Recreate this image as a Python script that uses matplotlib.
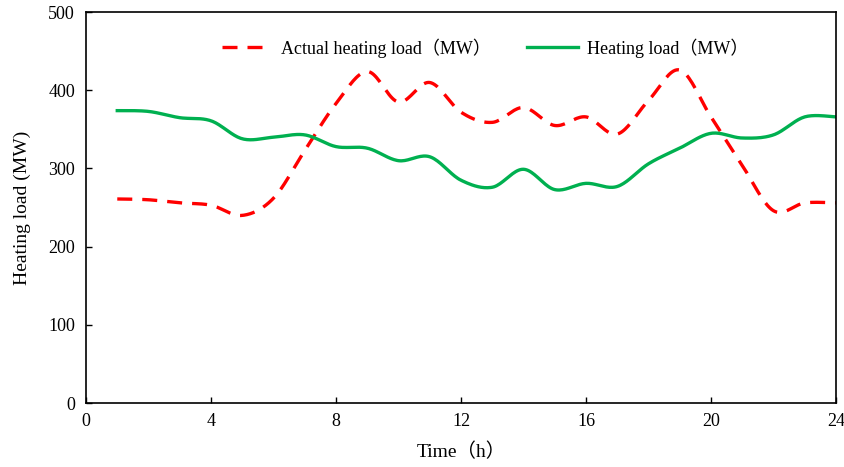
import numpy as np
import matplotlib
matplotlib.use('Agg')
import matplotlib.pyplot as plt

plt.rcParams['font.family'] = ['Liberation Serif', 'Noto Sans CJK SC']

# hourly data
hours = list(range(1, 25))
actual_load = [261, 260, 256, 253, 240, 262, 323, 383, 424, 385, 410, 372,
               359, 378, 355, 366, 344, 387, 426, 366, 304, 246, 256, 256]
heating_load = [374, 373, 365, 361, 338, 340, 343, 328, 326, 310, 315, 285,
                276, 299, 273, 281, 277, 306, 326, 345, 339, 343, 366, 366]


def smooth(x, y, n=20):
    # Catmull-Rom style smoothing like Excel's smoothed lines
    x = np.asarray(x, float)
    y = np.asarray(y, float)
    px = np.concatenate([[x[0]], x, [x[-1]]])
    py = np.concatenate([[y[0]], y, [y[-1]]])
    xs, ys = [], []
    t = np.linspace(0, 1, n, endpoint=False)
    for i in range(1, len(px) - 2):
        p0, p1, p2, p3 = [np.array([px[j], py[j]]) for j in (i - 1, i, i + 1, i + 2)]
        b1 = p1 + (p2 - p0) / 6
        b2 = p2 - (p3 - p1) / 6
        pts = ((1 - t)[:, None] ** 3 * p1 + 3 * ((1 - t) ** 2 * t)[:, None] * b1
               + 3 * ((1 - t) * t ** 2)[:, None] * b2 + (t ** 3)[:, None] * p2)
        xs.extend(pts[:, 0])
        ys.extend(pts[:, 1])
    xs.append(x[-1])
    ys.append(y[-1])
    return np.array(xs), np.array(ys)


fig = plt.figure(figsize=(8.45, 4.67), dpi=100)
ax = fig.add_axes([0.1018, 0.137, 0.8875, 0.837])

sx, sy = smooth(hours, actual_load)
ax.plot(sx, sy, color='#FF0000', lw=2.4, dashes=(4.5, 3),
        label='Actual heating load（MW）')
sx, sy = smooth(hours, heating_load)
ax.plot(sx, sy, color='#00B050', lw=2.4, label='Heating load（MW）')

ax.set_xlim(0, 24)
ax.set_ylim(0, 500)
ax.set_xticks(range(0, 25, 4))
ax.set_yticks(range(0, 501, 100))
ax.tick_params(direction='in', labelsize=13, length=4, width=1)
ax.tick_params(axis='x', pad=7)
ax.tick_params(axis='y', pad=8)
for s in ax.spines.values():
    s.set_linewidth(1.2)

ax.set_xlabel('Time（h）', fontsize=14, labelpad=9)
ax.set_ylabel('Heating load (MW)', fontsize=14, labelpad=12)

ax.legend(loc='upper center', bbox_to_anchor=(0.532, 0.975), ncol=2,
          frameon=False, fontsize=13, handlelength=2.8, columnspacing=2.0,
          handletextpad=0.5)

fig.savefig('out.png', dpi=100)
